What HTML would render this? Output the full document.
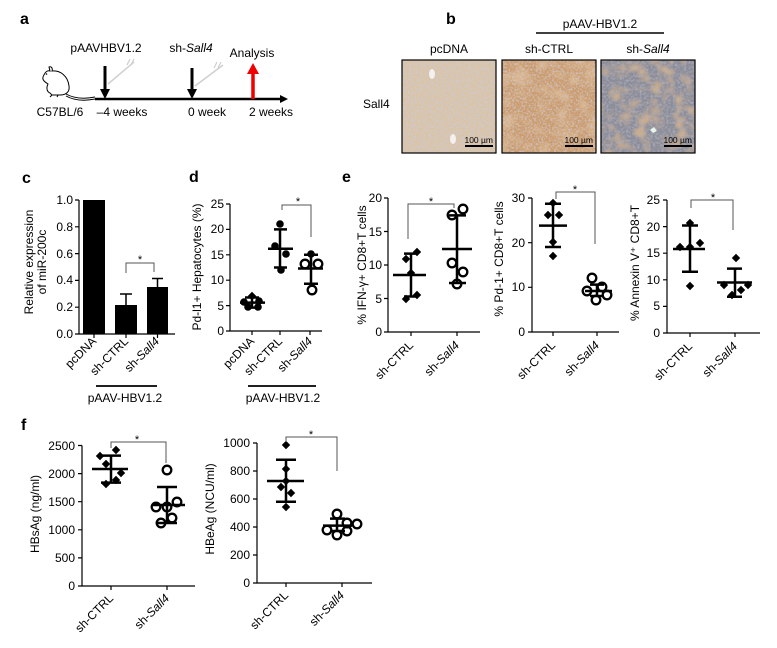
<!DOCTYPE html>
<html><head><meta charset="utf-8"><style>
html,body{margin:0;padding:0;background:#fff;}
svg{display:block;}
text{font-family:"Liberation Sans",Arial,sans-serif;fill:#000;}
</style></head><body>
<svg width="777" height="648" viewBox="0 0 777 648" xmlns="http://www.w3.org/2000/svg">
<defs>
<path id="dm" d="M0,-4.2 L4.2,0 L0,4.2 L-4.2,0Z" fill="#000"/>
<circle id="oc" r="4.3" fill="#fff" stroke="#000" stroke-width="2.3"/>
<circle id="fc" r="3.8" fill="#000"/>
<filter id="sp1" x="0" y="0" width="100%" height="100%">
<feTurbulence type="fractalNoise" baseFrequency="0.6" numOctaves="1" seed="4"/>
<feColorMatrix type="matrix" values="0 0 0 0 0.58  0 0 0 0 0.6  0 0 0 0 0.72  2.6 0 0 0 -1.05"/>
</filter>
<filter id="sp2" x="0" y="0" width="100%" height="100%">
<feTurbulence type="fractalNoise" baseFrequency="0.55" numOctaves="1" seed="7"/>
<feColorMatrix type="matrix" values="0 0 0 0 0.62  0 0 0 0 0.58  0 0 0 0 0.66  2.4 0 0 0 -1.0"/>
</filter>
<filter id="sp3" x="0" y="0" width="100%" height="100%">
<feTurbulence type="fractalNoise" baseFrequency="0.45" numOctaves="1" seed="11"/>
<feColorMatrix type="matrix" values="0 0 0 0 0.4  0 0 0 0 0.42  0 0 0 0 0.52  2.4 0 0 0 -1.0"/>
</filter>
<filter id="cp2" x="0" y="0" width="100%" height="100%">
<feTurbulence type="fractalNoise" baseFrequency="0.07" numOctaves="2" seed="9"/>
<feColorMatrix type="matrix" values="0 0 0 0 0.7  0 0 0 0 0.45  0 0 0 0 0.24  3 0 0 0 -1.3"/>
</filter>
<filter id="cp3" x="0" y="0" width="100%" height="100%">
<feTurbulence type="fractalNoise" baseFrequency="0.08" numOctaves="2" seed="2"/>
<feColorMatrix type="matrix" values="0 0 0 0 0.62  0 0 0 0 0.42  0 0 0 0 0.25  3 0 0 0 -1.3"/>
</filter>
</defs>

<!-- Panel a -->
<text x="20" y="24" font-size="16" font-weight="bold">a</text>
<g fill="none" stroke="#000" stroke-width="1">
<path d="M43,77 C45,72 47,70 50,71 L49,67 C51,66 53,68 52,71 C60,70 68,76 69,86 C70,92 66,95 60,95 L52,95 L50,93 C47,92 46,88 48,84 C45,82 42,80 43,77 Z"/>
<path d="M66,94 C75,99 85,99 95,97"/>
<path d="M66,96 C75,101 85,101 95,99"/>
<path d="M52,95 L50,97 M58,95 L57,97"/>
</g>
<circle cx="46.5" cy="74" r="0.8" fill="#000"/>
<line x1="108" y1="84" x2="134" y2="62" stroke="#cfcfcf" stroke-width="1.5"/>
<path d="M127,65 l3,-6 M131,65 l3,-6" stroke="#cfcfcf" stroke-width="1.2"/>
<line x1="195" y1="86" x2="223" y2="65" stroke="#cfcfcf" stroke-width="1.5"/>
<path d="M214,68 l3,-6 M218,68 l3,-6" stroke="#cfcfcf" stroke-width="1.2"/>
<line x1="95" y1="99" x2="282" y2="99" stroke="#000" stroke-width="2.5"/>
<polygon points="280,95 288,99 280,103" fill="#000"/>
<line x1="105" y1="66" x2="105" y2="91" stroke="#000" stroke-width="3"/>
<polygon points="100,89 110,89 105,99" fill="#000"/>
<line x1="192" y1="68" x2="192" y2="91" stroke="#000" stroke-width="3"/>
<polygon points="187,89 197,89 192,99" fill="#000"/>
<line x1="253" y1="99" x2="253" y2="71" stroke="#e00" stroke-width="3.5"/>
<polygon points="247,74 259,74 253,63" fill="#e00"/>
<g font-size="12" text-anchor="middle">
<text x="106" y="52">pAAVHBV1.2</text>
<text x="191" y="52">sh-<tspan font-style="italic">Sall4</tspan></text>
<text x="252" y="57">Analysis</text>
<text x="60" y="116">C57BL/6</text>
<text x="122" y="116">–4 weeks</text>
<text x="207" y="116">0 week</text>
<text x="271" y="116">2 weeks</text>
</g>

<!-- Panel b -->
<text x="446" y="24" font-size="16" font-weight="bold">b</text>
<text x="600" y="28" font-size="12" text-anchor="middle">pAAV-HBV1.2</text>
<line x1="536" y1="33" x2="664" y2="33" stroke="#000" stroke-width="1.5"/>
<g font-size="12" text-anchor="middle">
<text x="449" y="53">pcDNA</text>
<text x="549" y="53">sh-CTRL</text>
<text x="648" y="53">sh-<tspan font-style="italic">Sall4</tspan></text>
</g>
<text x="363" y="108" font-size="12">Sall4</text>
<rect x="402" y="60" width="94" height="93" fill="#dcc3a2"/>
<rect x="402" y="60" width="94" height="93" filter="url(#sp1)"/>
<ellipse cx="432" cy="74" rx="3" ry="5" fill="#f4f0ee"/>
<ellipse cx="453" cy="139" rx="3" ry="5" fill="#f4f0ee"/>
<rect x="502" y="60" width="94" height="93" fill="#cc9b6a"/>
<rect x="502" y="60" width="94" height="93" filter="url(#cp2)"/>
<rect x="502" y="60" width="94" height="93" filter="url(#sp2)"/>
<rect x="601" y="60" width="94" height="93" fill="#8d8d98"/>
<rect x="601" y="60" width="94" height="93" filter="url(#cp3)"/>
<rect x="601" y="60" width="94" height="93" filter="url(#sp3)"/>
<path d="M650,130 l4,-3 l3,4 l-4,2z" fill="#e8f4ec"/>
<g fill="none" stroke="#000" stroke-width="1.2">
<rect x="402" y="60" width="94" height="93"/>
<rect x="502" y="60" width="94" height="93"/>
<rect x="601" y="60" width="94" height="93"/>
</g>
<g font-size="8.5" text-anchor="end">
<text x="493" y="143">100 µm</text>
<text x="593" y="143">100 µm</text>
<text x="692" y="143">100 µm</text>
</g>
<g stroke="#000" stroke-width="2">
<line x1="465" y1="146" x2="493" y2="146"/>
<line x1="565" y1="146" x2="593" y2="146"/>
<line x1="664" y1="146" x2="692" y2="146"/>
</g>

<!-- Panel c -->
<text x="22" y="183" font-size="16" font-weight="bold">c</text>
<g stroke="#000" stroke-width="1.2" fill="none">
<path d="M79,200 L79,334 L175,334"/>
<path d="M75,200 H79 M75,226.8 H79 M75,253.6 H79 M75,280.4 H79 M75,307.2 H79 M75,334 H79"/>
<path d="M94,334 V338 M126,334 V338 M157.5,334 V338"/>
</g>
<g font-size="12" text-anchor="end">
<text x="73" y="204">1.0</text><text x="73" y="231">0.8</text><text x="73" y="258">0.6</text>
<text x="73" y="284">0.4</text><text x="73" y="311">0.2</text><text x="73" y="338">0.0</text>
</g>
<rect x="83" y="200" width="22" height="134" fill="#000"/>
<rect x="115" y="305" width="22" height="29" fill="#000"/>
<rect x="147" y="287" width="21" height="47" fill="#000"/>
<g stroke="#000" stroke-width="1.5" fill="none">
<path d="M126,305 V294 M120,294 H132"/>
<path d="M157.5,287 V278.5 M152,278.5 H163"/>
</g>
<path d="M126,273 V263 H154 V272" stroke="#555" stroke-width="1" fill="none"/>
<text x="140" y="263" font-size="11" text-anchor="middle">*</text>
<g font-size="12">
<text transform="translate(33,262) rotate(-90)" text-anchor="middle">Relative expression</text>
<text transform="translate(46,262) rotate(-90)" text-anchor="middle">of miR-200c</text>
</g>
<g font-size="12" text-anchor="end">
<text transform="translate(97,342) rotate(-45)">pcDNA</text>
<text transform="translate(129,342) rotate(-45)">sh-CTRL</text>
<text transform="translate(160,342) rotate(-45)">sh-<tspan font-style="italic">Sall4</tspan></text>
</g>
<line x1="96" y1="386" x2="157" y2="386" stroke="#000" stroke-width="1.8"/>
<text x="125" y="402" font-size="12" text-anchor="middle">pAAV-HBV1.2</text>

<!-- Panel d -->
<text x="189" y="182" font-size="16" font-weight="bold">d</text>
<g stroke="#000" stroke-width="1.2" fill="none">
<path d="M230,204 L230,331 L322,331"/>
<path d="M226,204 H230 M226,229.4 H230 M226,254.8 H230 M226,280.2 H230 M226,305.6 H230 M226,331 H230"/>
<path d="M252,331 V335 M280,331 V335 M310,331 V335"/>
</g>
<g font-size="12" text-anchor="end">
<text x="224" y="208">25</text><text x="224" y="233">20</text><text x="224" y="259">15</text>
<text x="224" y="284">10</text><text x="224" y="310">5</text><text x="224" y="335">0</text>
</g>
<text transform="translate(201,267) rotate(-90)" font-size="12" text-anchor="middle">Pd-l1+ Hepatocytes (%)</text>
<use href="#dm" x="252" y="296"/><use href="#fc" x="244" y="302"/><use href="#fc" x="259" y="301"/>
<use href="#fc" x="248" y="307"/><use href="#fc" x="258" y="307"/>
<use href="#fc" x="280" y="224"/><use href="#fc" x="275" y="246"/><use href="#fc" x="286" y="254"/><use href="#fc" x="281" y="270"/>
<use href="#fc" x="311" y="254"/><use href="#oc" x="305" y="264"/><use href="#oc" x="318" y="264"/><use href="#oc" x="312" y="290"/>
<g stroke="#000" stroke-width="2.5" fill="none">
<path d="M240,302.6 H265 M252,297.5 V307.6 M245,297.5 H259 M245,307.6 H259"/>
<path d="M268,248.7 H293 M280,229.4 V267.5 M274,229.4 H287 M274,267.5 H287"/>
<path d="M298,268.5 H323 M311,254.8 V283.8 M304,254.8 H318 M304,283.8 H318"/>
</g>
<path d="M282,210 V205 H311 V237" stroke="#555" stroke-width="1" fill="none"/>
<text x="298" y="205" font-size="11" text-anchor="middle">*</text>
<g font-size="12" text-anchor="end">
<text transform="translate(255,342) rotate(-45)">pcDNA</text>
<text transform="translate(283,342) rotate(-45)">sh-CTRL</text>
<text transform="translate(313,342) rotate(-45)">sh-<tspan font-style="italic">Sall4</tspan></text>
</g>
<line x1="248" y1="386" x2="316" y2="386" stroke="#000" stroke-width="1.8"/>
<text x="283" y="402" font-size="12" text-anchor="middle">pAAV-HBV1.2</text>

<!-- Panel e1 -->
<text x="342" y="182" font-size="16" font-weight="bold">e</text>
<g stroke="#000" stroke-width="1.2" fill="none">
<path d="M388,198 L388,332 L480,332"/>
<path d="M384,198 H388 M384,231.5 H388 M384,265 H388 M384,298.5 H388 M384,332 H388"/>
<path d="M411,332 V336 M457,332 V336"/>
</g>
<g font-size="12" text-anchor="end">
<text x="382" y="202">20</text><text x="382" y="236">15</text><text x="382" y="269">10</text>
<text x="382" y="303">5</text><text x="382" y="336">0</text>
</g>
<text transform="translate(366,265) rotate(-90)" font-size="12" text-anchor="middle">% IFN-γ+ CD8+T cells</text>
<use href="#dm" x="406" y="259"/><use href="#dm" x="417" y="252"/><use href="#dm" x="411" y="273"/>
<use href="#dm" x="417" y="295"/><use href="#dm" x="406" y="299"/>
<use href="#oc" x="452" y="215"/><use href="#oc" x="463" y="209"/><use href="#oc" x="452" y="263"/>
<use href="#oc" x="463" y="272"/><use href="#oc" x="457" y="284"/>
<g stroke="#000" stroke-width="2.5" fill="none">
<path d="M393,275 H426 M411,253.6 V296.5 M404,253.6 H418 M404,296.5 H418"/>
<path d="M442,249 H472 M457,215.4 V283 M449,215.4 H466 M449,283 H466"/>
</g>
<path d="M408,239 V204 H454 V208" stroke="#555" stroke-width="1" fill="none"/>
<text x="431" y="205" font-size="11" text-anchor="middle">*</text>
<g font-size="12" text-anchor="end">
<text transform="translate(414,346) rotate(-45)">sh-CTRL</text>
<text transform="translate(460,346) rotate(-45)">sh-<tspan font-style="italic">Sall4</tspan></text>
</g>

<!-- Panel e2 -->
<g stroke="#000" stroke-width="1.2" fill="none">
<path d="M532,198 L532,332 L619,332"/>
<path d="M528,198 H532 M528,242.7 H532 M528,287.3 H532 M528,332 H532"/>
<path d="M553,332 V336 M597,332 V336"/>
</g>
<g font-size="12" text-anchor="end">
<text x="525" y="202">30</text><text x="525" y="247">20</text><text x="525" y="291">10</text><text x="525" y="336">0</text>
</g>
<text transform="translate(503,259) rotate(-90)" font-size="12" text-anchor="middle">% Pd-1+ CD8+T cells</text>
<use href="#dm" x="553" y="203"/><use href="#dm" x="548" y="215"/><use href="#dm" x="559" y="215"/>
<use href="#dm" x="553" y="242"/><use href="#dm" x="553" y="256"/>
<use href="#oc" x="592" y="278"/><use href="#oc" x="602" y="287"/><use href="#oc" x="587" y="291"/>
<use href="#oc" x="607" y="295"/><use href="#oc" x="596" y="300"/>
<g stroke="#000" stroke-width="2.5" fill="none">
<path d="M539,225.6 H567 M553,203.7 V247 M545,203.7 H561 M545,247 H561"/>
<path d="M585,291 H612 M597,284.6 V296 M590,284.6 H604 M590,296 H604"/>
</g>
<path d="M556,199 V192 H595 V244" stroke="#555" stroke-width="1" fill="none"/>
<text x="575" y="193" font-size="11" text-anchor="middle">*</text>
<g font-size="12" text-anchor="end">
<text transform="translate(556,346) rotate(-45)">sh-CTRL</text>
<text transform="translate(600,346) rotate(-45)">sh-<tspan font-style="italic">Sall4</tspan></text>
</g>

<!-- Panel e3 -->
<g stroke="#000" stroke-width="1.2" fill="none">
<path d="M667,200 L667,333 L760,333"/>
<path d="M663,200 H667 M663,226.6 H667 M663,253.2 H667 M663,279.8 H667 M663,306.4 H667 M663,333 H667"/>
<path d="M690,333 V337 M735,333 V337"/>
</g>
<g font-size="12" text-anchor="end">
<text x="660" y="204">25</text><text x="660" y="231">20</text><text x="660" y="257">15</text>
<text x="660" y="284">10</text><text x="660" y="310">5</text><text x="660" y="337">0</text>
</g>
<text transform="translate(639,263) rotate(-90)" font-size="12" text-anchor="middle">% Annexin V⁺ CD8+T</text>
<use href="#dm" x="690" y="223"/><use href="#dm" x="680" y="247"/><use href="#dm" x="690" y="247"/>
<use href="#dm" x="700" y="243"/><use href="#dm" x="690" y="286"/>
<use href="#dm" x="736" y="258"/><use href="#dm" x="724" y="285"/><use href="#dm" x="748" y="285"/>
<use href="#dm" x="732" y="295"/><use href="#dm" x="741" y="290"/>
<g stroke="#000" stroke-width="2.5" fill="none">
<path d="M673,249 H705 M690,225.5 V271.8 M682,225.5 H698 M682,271.8 H698"/>
<path d="M717,282.5 H752 M735,268.6 V296.8 M727,268.6 H742 M727,296.8 H742"/>
</g>
<path d="M691,208 V200 H733 V230" stroke="#555" stroke-width="1" fill="none"/>
<text x="713" y="201" font-size="11" text-anchor="middle">*</text>
<g font-size="12" text-anchor="end">
<text transform="translate(693,347) rotate(-45)">sh-CTRL</text>
<text transform="translate(738,347) rotate(-45)">sh-<tspan font-style="italic">Sall4</tspan></text>
</g>

<!-- Panel f1 -->
<text x="21" y="430" font-size="16" font-weight="bold">f</text>
<g stroke="#000" stroke-width="1.2" fill="none">
<path d="M82,445.5 L82,586 L195,586"/>
<path d="M78,445.5 H82 M78,473.6 H82 M78,501.7 H82 M78,529.8 H82 M78,557.9 H82 M78,586 H82"/>
<path d="M111,586 V590 M167,586 V590"/>
</g>
<g font-size="12" text-anchor="end">
<text x="75" y="450">2500</text><text x="75" y="478">2000</text><text x="75" y="506">1500</text>
<text x="75" y="534">1000</text><text x="75" y="562">500</text><text x="75" y="590">0</text>
</g>
<text transform="translate(39,514) rotate(-90)" font-size="12" text-anchor="middle">HBsAg (ng/ml)</text>
<use href="#dm" x="116" y="450"/><use href="#dm" x="100" y="456"/><use href="#dm" x="106" y="464"/>
<use href="#dm" x="121" y="473"/><use href="#dm" x="116" y="480"/><use href="#dm" x="106" y="484"/>
<use href="#oc" x="167" y="470"/><use href="#oc" x="177" y="502"/><use href="#oc" x="156" y="507"/>
<use href="#oc" x="167" y="507"/><use href="#oc" x="172" y="518"/><use href="#oc" x="161" y="523"/>
<g stroke="#000" stroke-width="2.5" fill="none">
<path d="M92,469 H128 M111,455.6 V482.6 M101,455.6 H121 M101,482.6 H121"/>
<path d="M152,505 H185 M167,487 V523 M157,487 H177 M157,523 H177"/>
</g>
<path d="M111,448 V442 H166 V463" stroke="#555" stroke-width="1" fill="none"/>
<text x="137" y="443" font-size="11" text-anchor="middle">*</text>
<g font-size="12" text-anchor="end">
<text transform="translate(114,599) rotate(-45)">sh-CTRL</text>
<text transform="translate(170,599) rotate(-45)">sh-<tspan font-style="italic">Sall4</tspan></text>
</g>

<!-- Panel f2 -->
<g stroke="#000" stroke-width="1.2" fill="none">
<path d="M257,443 L257,583 L372,583"/>
<path d="M253,443 H257 M253,471 H257 M253,499 H257 M253,527 H257 M253,555 H257 M253,583 H257"/>
<path d="M286,583 V587 M342,583 V587"/>
</g>
<g font-size="12" text-anchor="end">
<text x="250" y="447">1000</text><text x="250" y="475">800</text><text x="250" y="503">600</text>
<text x="250" y="531">400</text><text x="250" y="559">200</text><text x="250" y="587">0</text>
</g>
<text transform="translate(214,509) rotate(-90)" font-size="12" text-anchor="middle">HBeAg (NCU/ml)</text>
<use href="#dm" x="286" y="445"/><use href="#dm" x="286" y="469"/><use href="#dm" x="286" y="481"/>
<use href="#dm" x="281" y="487"/><use href="#dm" x="291" y="493"/><use href="#dm" x="286" y="507"/>
<use href="#oc" x="337" y="514"/><use href="#oc" x="327" y="530"/><use href="#oc" x="337" y="535"/>
<use href="#oc" x="347" y="531"/><use href="#oc" x="347" y="523"/><use href="#oc" x="357" y="524"/>
<g stroke="#000" stroke-width="2.5" fill="none">
<path d="M267,481 H304 M286,459.8 V501.8 M276,459.8 H296 M276,501.8 H296"/>
<path d="M323,525.6 H352 M337,518.6 V531 M330,518.6 H345 M330,531 H345"/>
</g>
<path d="M286,442 V437 H337 V471" stroke="#555" stroke-width="1" fill="none"/>
<text x="311" y="438" font-size="11" text-anchor="middle">*</text>
<g font-size="12" text-anchor="end">
<text transform="translate(289,596) rotate(-45)">sh-CTRL</text>
<text transform="translate(345,596) rotate(-45)">sh-<tspan font-style="italic">Sall4</tspan></text>
</g>
</svg>
</body></html>
